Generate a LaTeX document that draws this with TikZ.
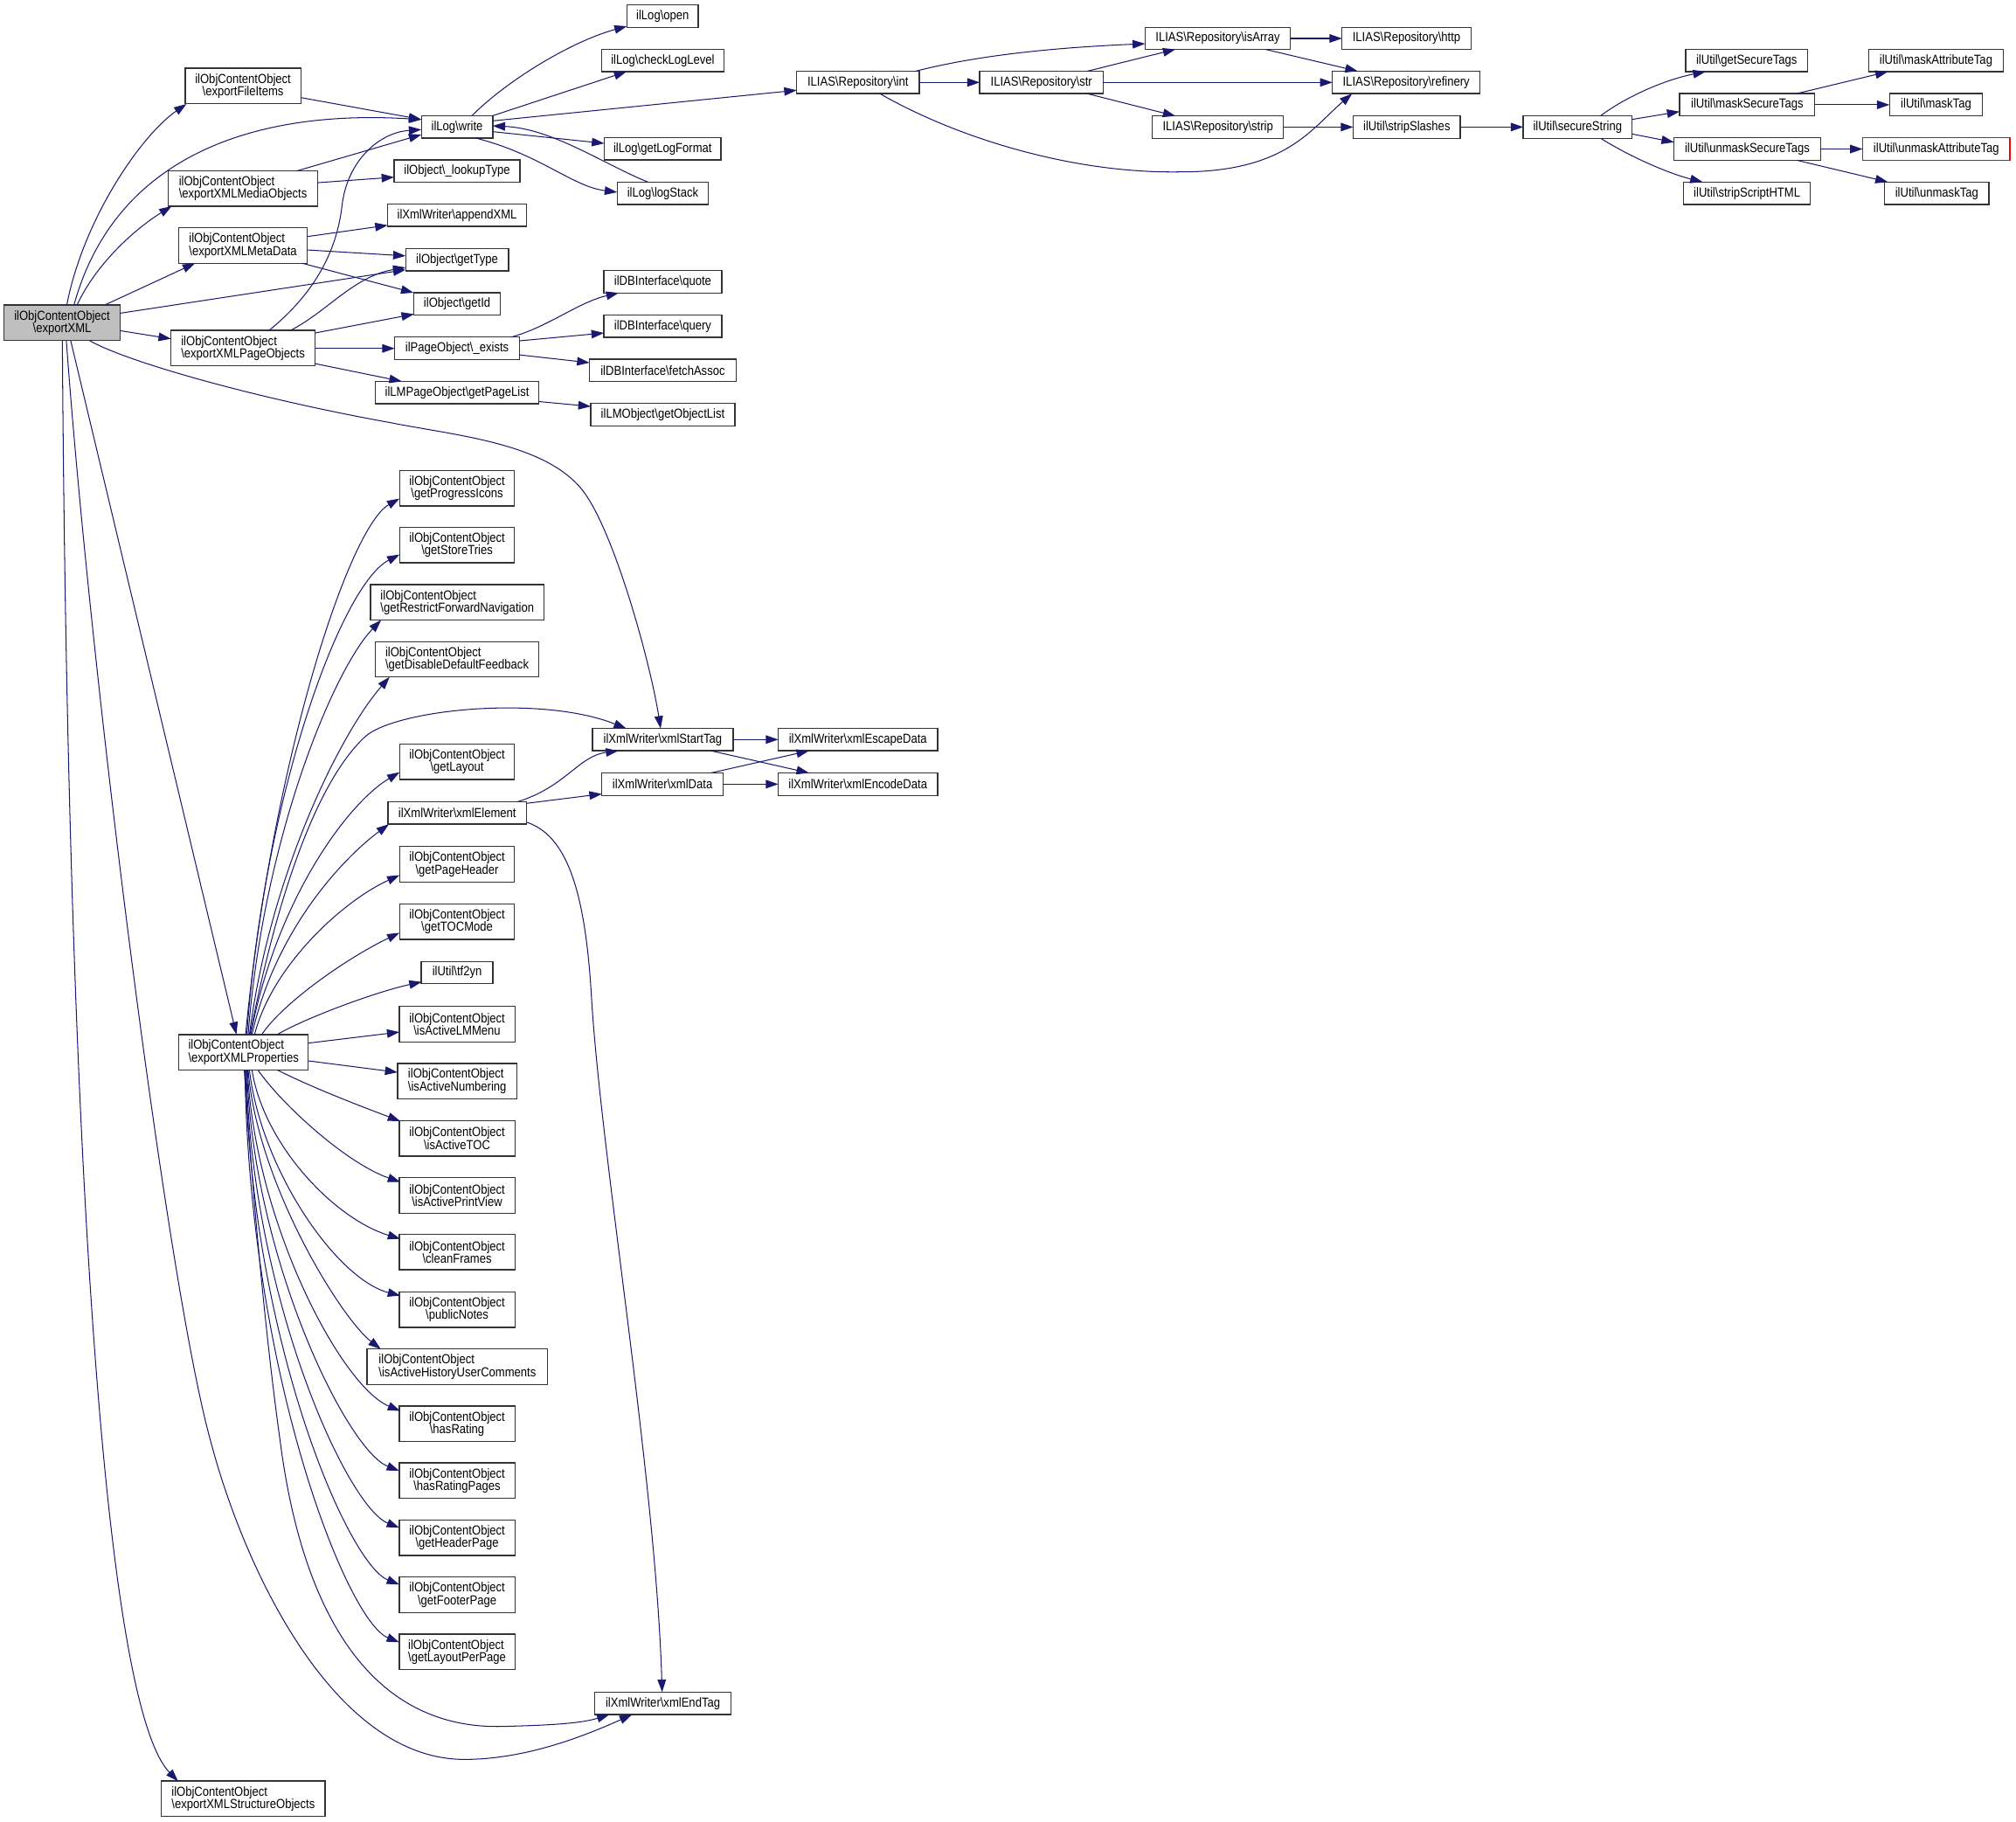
\documentclass[tikz,border=0pt]{standalone}
\usepackage{fontspec}
\setmainfont{Liberation Sans}[FakeStretch=0.87]
\usetikzlibrary{arrows.meta,calc}
\definecolor{mblue}{RGB}{25,25,112}
\newcommand{\bsl}{\textbackslash}
\tikzset{
  nb/.style={draw=black!80, line width=0.9pt, fill=white, inner sep=0pt, minimum height=17.4pt, font=\fontsize{10.2}{9.7}\selectfont, align=center},
  nb2/.style={nb, minimum height=27.5pt},
  ce/.style={draw=mblue, line width=0.7pt, -{Triangle[length=9.7pt,width=6.6pt]}},
}
\begin{document}
\begin{tikzpicture}[x=1pt,y=-1pt]
\useasboundingbox (0,0) rectangle (1568,1417);
% rank 0
\node[nb2, fill=gray!50, minimum width=90.5pt] (n0) at (48.3,251) {ilObjContentObject\\\bsl exportXML};
% rank 1
\node[nb2, minimum width=90pt] (fi) at (189,66.8) {ilObjContentObject\\\bsl exportFileItems};
\node[nb2, align=left, minimum width=116pt] (mo) at (189,146.7) {ilObjContentObject\\\bsl exportXMLMediaObjects};
\node[nb2, align=left, minimum width=100pt] (md) at (189,191) {ilObjContentObject\\\bsl exportXMLMetaData};
\node[nb2, align=left, minimum width=112pt] (po) at (189,270.7) {ilObjContentObject\\\bsl exportXMLPageObjects};
\node[nb2, align=left, minimum width=100.7pt] (pr) at (189.4,818.4) {ilObjContentObject\\\bsl exportXMLProperties};
\node[nb2, align=left, minimum width=127.2pt] (so) at (189.2,1399) {ilObjContentObject\\\bsl exportXMLStructureObjects};
% rank 2
\node[nb, minimum width=55.5pt] (wr) at (355.5,98.7) {ilLog\bsl write};
\node[nb, minimum width=98pt] (lt) at (355.5,133.1) {ilObject\bsl\_lookupType};
\node[nb, minimum width=108pt] (ax) at (355.5,167.4) {ilXmlWriter\bsl appendXML};
\node[nb, minimum width=80pt] (gt) at (355.5,202) {ilObject\bsl getType};
\node[nb, minimum width=67pt] (gi) at (355.5,236.4) {ilObject\bsl getId};
\node[nb, minimum width=97pt] (ex) at (355.5,270.9) {ilPageObject\bsl\_exists};
\node[nb, minimum width=127pt] (gp) at (355.5,305.3) {ilLMPageObject\bsl getPageList};
\node[nb2, minimum width=89.4pt] (pi) at (355.5,379.8) {ilObjContentObject\\\bsl getProgressIcons};
\node[nb2, minimum width=89.4pt] (st) at (355.5,424) {ilObjContentObject\\\bsl getStoreTries};
\node[nb2, align=left, minimum width=135.1pt] (rf) at (355.65,468.5) {ilObjContentObject\\\bsl getRestrictForwardNavigation};
\node[nb2, align=left, minimum width=127.3pt] (dd) at (355.5,512.8) {ilObjContentObject\\\bsl getDisableDefaultFeedback};
\node[nb2, minimum width=89.4pt] (gl) at (355.5,592.4) {ilObjContentObject\\\bsl getLayout};
\node[nb, minimum width=107.9pt] (xe) at (355.65,632.3) {ilXmlWriter\bsl xmlElement};
\node[nb2, minimum width=89.4pt] (ph) at (355.5,672.2) {ilObjContentObject\\\bsl getPageHeader};
\node[nb2, minimum width=89.4pt] (tm) at (355.5,716.8) {ilObjContentObject\\\bsl getTOCMode};
\node[nb, minimum width=55.7pt, minimum height=17.3pt] (tf) at (355.5,756.5) {ilUtil\bsl tf2yn};
\node[nb2, minimum width=90pt] (lm) at (355.5,796.6) {ilObjContentObject\\\bsl isActiveLMMenu};
\node[nb2, align=left, minimum width=92.8pt] (an) at (355.6,840.8) {ilObjContentObject\\\bsl isActiveNumbering};
\node[nb2, minimum width=90pt] (itoc) at (355.5,885.4) {ilObjContentObject\\\bsl isActiveTOC};
\node[nb2, minimum width=90pt] (pv) at (355.5,929.8) {ilObjContentObject\\\bsl isActivePrintView};
\node[nb2, minimum width=90pt] (cf) at (355.5,973.9) {ilObjContentObject\\\bsl cleanFrames};
\node[nb2, minimum width=90pt] (pn) at (355.5,1018.6) {ilObjContentObject\\\bsl publicNotes};
\node[nb2, align=left, minimum width=140.5pt] (hu) at (355.75,1063) {ilObjContentObject\\\bsl isActiveHistoryUserComments};
\node[nb2, minimum width=90pt] (hr) at (355.5,1107.4) {ilObjContentObject\\\bsl hasRating};
\node[nb2, minimum width=90pt] (hp) at (355.5,1151.6) {ilObjContentObject\\\bsl hasRatingPages};
\node[nb2, minimum width=90pt] (hh) at (355.5,1196.1) {ilObjContentObject\\\bsl getHeaderPage};
\node[nb2, minimum width=90pt] (fp) at (355.5,1240.4) {ilObjContentObject\\\bsl getFooterPage};
\node[nb2, align=left, minimum width=90pt] (lp) at (355.5,1284.8) {ilObjContentObject\\\bsl getLayoutPerPage};
% rank 3
\node[nb, minimum width=55.5pt] (op) at (515.4,12.6) {ilLog\bsl open};
\node[nb, minimum width=95.3pt] (cl) at (515.5,47) {ilLog\bsl checkLogLevel};
\node[nb, minimum width=90.8pt] (lf) at (515.4,115.7) {ilLog\bsl getLogFormat};
\node[nb, minimum width=71pt] (ls) at (515.5,150.3) {ilLog\bsl logStack};
\node[nb, minimum width=91.6pt] (qu) at (515.5,219.1) {ilDBInterface\bsl quote};
\node[nb, minimum width=91.6pt] (qy) at (515.5,253.7) {ilDBInterface\bsl query};
\node[nb, minimum width=114pt] (fa) at (515.5,288) {ilDBInterface\bsl fetchAssoc};
\node[nb, minimum width=112pt] (ol) at (515.5,322.5) {ilLMObject\bsl getObjectList};
\node[nb, minimum width=109.5pt] (xs) at (515.45,575.2) {ilXmlWriter\bsl xmlStartTag};
\node[nb, minimum width=94.3pt] (xd) at (515.25,609.9) {ilXmlWriter\bsl xmlData};
\node[nb, minimum width=105.7pt] (xt) at (515.55,1324.8) {ilXmlWriter\bsl xmlEndTag};
% rank 4
\node[nb, minimum width=95.3pt] (ri) at (667.25,64.1) {ILIAS\bsl Repository\bsl int};
\node[nb, minimum width=124pt] (xc) at (667.25,575.2) {ilXmlWriter\bsl xmlEscapeData};
\node[nb, minimum width=124pt] (xn) at (667.25,609.9) {ilXmlWriter\bsl xmlEncodeData};
% rank 5-8
\node[nb, minimum width=96pt] (rs) at (810,64.1) {ILIAS\bsl Repository\bsl str};
\node[nb, minimum width=113pt] (ra) at (947.1,29.9) {ILIAS\bsl Repository\bsl isArray};
\node[nb, minimum width=102pt] (rp) at (947.25,98.8) {ILIAS\bsl Repository\bsl strip};
\node[nb, minimum width=100.3pt] (rh) at (1093.9,29.9) {ILIAS\bsl Repository\bsl http};
\node[nb, minimum width=114.7pt] (rr) at (1093.7,64.1) {ILIAS\bsl Repository\bsl refinery};
\node[nb, minimum width=83.3pt] (ss) at (1094.15,98.8) {ilUtil\bsl stripSlashes};
\node[nb, minimum width=84.6pt] (sc) at (1227,98.8) {ilUtil\bsl secureString};
% rank 9
\node[nb, minimum width=95pt] (gs) at (1358.5,47) {ilUtil\bsl getSecureTags};
\node[nb, minimum width=105.2pt] (ms) at (1358.9,81.5) {ilUtil\bsl maskSecureTags};
\node[nb, minimum width=114pt] (us) at (1359,115.9) {ilUtil\bsl unmaskSecureTags};
\node[nb, minimum width=98.5pt] (sh) at (1358.75,150.3) {ilUtil\bsl stripScriptHTML};
% rank 10
\node[nb, minimum width=104.5pt] (ma) at (1505.75,47) {ilUtil\bsl maskAttributeTag};
\node[nb, minimum width=72.4pt] (mt) at (1505.8,81.5) {ilUtil\bsl maskTag};
\node[nb, draw=red, minimum width=114.6pt] (ua) at (1506,115.9) {ilUtil\bsl unmaskAttributeTag};
\node[nb, minimum width=81.3pt] (ut) at (1506.35,150.3) {ilUtil\bsl unmaskTag};

% ---- edges from exportXML
\draw[ce] ($(n0)+(3.7,-14)$) .. controls (65,170) and (110,105) .. ($(fi)+(-44,14.1)$);
\draw[ce] ($(n0)+(9.3,-14)$) .. controls (90,120) and (200,85) .. ($(wr)+(-27.8,-5.7)$);
\draw[ce] ($(n0)+(11.7,-14)$) .. controls (75,205) and (105,178) .. ($(mo)+(-55.5,13.7)$);
\draw[ce] ($(n0)+(33,-13.7)$) -- ($(md)+(-37.3,13.75)$);
\draw[ce] ($(n0)+(45.2,-7.4)$) -- ($(gt)+(-40,7.8)$);
\draw[ce] ($(n0)+(45.2,6.2)$) -- ($(po)+(-56,-7.2)$);
\draw[ce] ($(n0)+(21.5,14)$) .. controls (100,282) and (200,310) .. (303,328.6) .. controls (353,338.6) and (422,344) .. (452,380) .. controls (477,410) and (506,516) .. ($(xs)+(-1.65,-8.6)$);
\draw[ce] ($(n0)+(6.7,14)$) -- ($(pr)+(-5.5,-13.8)$);
\draw[ce] ($(n0)+(0.2,14)$) .. controls (52,800) and (75,1320) .. ($(so)+(-50.7,-13.6)$);
\draw[ce] ($(n0)+(3.3,14)$) .. controls (70,520) and (130,1000) .. (164,1121.5) .. controls (190,1220) and (260,1370) .. (362.8,1368.4) .. controls (410,1368) and (455,1350) .. ($(xt)+(-24,8.8)$);

% ---- rank 1 edges
\draw[ce] ($(fi)+(45,9.1)$) -- ($(wr)+(-27.8,-5.8)$);
\draw[ce] ($(mo)+(41.6,-13.7)$) -- ($(wr)+(-27.8,6)$);
\draw[ce] ($(mo)+(58,-4.6)$) -- ($(lt)+(-49,4.7)$);
\draw[ce] ($(md)+(50,-7)$) -- ($(ax)+(-54,7.8)$);
\draw[ce] ($(md)+(50,3.4)$) -- ($(gt)+(-40,-3)$);
\draw[ce] ($(md)+(46.1,13.75)$) -- ($(gi)+(-33.9,-8.75)$);
\draw[ce] ($(po)+(20.3,-13.75)$) .. controls (245,228) and (262,195) .. (266,160) .. controls (270,125) and (295,103) .. ($(wr)+(-27.8,2.1)$);
\draw[ce] ($(po)+(37,-13.75)$) .. controls (255,242) and (275,215) .. ($(gt)+(-40,6)$);
\draw[ce] ($(po)+(56,-11.7)$) -- ($(gi)+(-33.5,7.9)$);
\draw[ce] ($(po)+(56,0.3)$) -- ($(ex)+(-48.5,0.1)$);
\draw[ce] ($(po)+(56,12.1)$) -- ($(gp)+(-43,-8.7)$);

% ---- exportXMLProperties fan (upwards)
\draw[ce] ($(pr)+(26.3,-13.8)$) .. controls (235,793) and (290,772) .. ($(tf)+(-27.5,7.2)$);
\draw[ce] ($(pr)+(14.2,-13.8)$) .. controls (220,780) and (270,745) .. ($(tm)+(-44.7,8.7)$);
\draw[ce] ($(pr)+(8.6,-13.8)$) .. controls (212,750) and (268,700) .. ($(ph)+(-44.7,8.5)$);
\draw[ce] ($(pr)+(6.6,-13.8)$) .. controls (215,720) and (270,665) .. ($(xe)+(-53.15,8.75)$);
\draw[ce] ($(pr)+(5.6,-13.8)$) .. controls (215,700) and (270,625) .. ($(gl)+(-44.7,8.2)$);
\draw[ce] ($(pr)+(5.1,-13.8)$) .. controls (215,700) and (245,610) .. (283.2,573.7) .. controls (305,552) and (420,540) .. ($(xs)+(-28.35,-8.6)$);
\draw[ce] ($(pr)+(4.6,-13.8)$) .. controls (210,680) and (265,570) .. ($(dd)+(-52.5,13.75)$);
\draw[ce] ($(pr)+(3.6,-13.8)$) .. controls (205,650) and (260,520) .. ($(rf)+(-59.25,13.75)$);
\draw[ce] ($(pr)+(2.6,-13.8)$) .. controls (205,620) and (265,455) .. ($(st)+(-44.7,7.3)$);
\draw[ce] ($(pr)+(1.6,-13.8)$) .. controls (212,590) and (271.5,410) .. ($(pi)+(-44.8,8)$);
% ---- exportXMLProperties fan (downwards)
\draw[ce] ($(pr)+(50.35,-7.1)$) -- ($(lm)+(-44.8,6.1)$);
\draw[ce] ($(pr)+(50.35,6.7)$) -- ($(an)+(-46.4,-6.8)$);
\draw[ce] ($(pr)+(26.3,13.8)$) .. controls (245,847) and (285,862) .. ($(itoc)+(-44.2,-13.4)$);
\draw[ce] ($(pr)+(11.2,13.8)$) .. controls (220,860) and (270,905) .. ($(pv)+(-44.2,-10.5)$);
\draw[ce] ($(pr)+(6.6,13.8)$) .. controls (205,890) and (260,948) .. ($(cf)+(-44.2,-10.4)$);
\draw[ce] ($(pr)+(4.6,13.8)$) .. controls (203,910) and (262,995) .. ($(pn)+(-44.2,-10.9)$);
\draw[ce] ($(pr)+(3.6,13.8)$) .. controls (200,920) and (265,1025) .. ($(hu)+(-59.65,-13.75)$);
\draw[ce] ($(pr)+(3.1,13.8)$) .. controls (198,950) and (265,1078) .. ($(hr)+(-44.2,-10)$);
\draw[ce] ($(pr)+(2.6,13.8)$) .. controls (197,980) and (270,1128) .. ($(hp)+(-45,-7.6)$);
\draw[ce] ($(pr)+(2.1,13.8)$) .. controls (196,1010) and (270,1172) .. ($(hh)+(-45,-7.9)$);
\draw[ce] ($(pr)+(1.6,13.8)$) .. controls (195,1040) and (270,1216) .. ($(fp)+(-45,-8)$);
\draw[ce] ($(pr)+(1.1,13.8)$) .. controls (194,1070) and (270,1261) .. ($(lp)+(-45,-7.5)$);
\draw[ce] ($(pr)+(0.6,13.8)$) .. controls (198,950) and (208,1050) .. (218,1121.5) .. controls (232,1230) and (275,1345) .. (390,1342.8) .. controls (420,1342) and (450,1341) .. ($(xt)+(-41.55,8.75)$);

% ---- ilLog
\draw[ce] ($(wr)+(11.6,-8.75)$) .. controls (395,62) and (445,32) .. ($(op)+(-27.8,7.8)$);
\draw[ce] ($(wr)+(27.7,-8.7)$) -- ($(cl)+(-28.2,8.7)$);
\draw[ce] ($(wr)+(27.7,-4.7)$) -- ($(ri)+(-47.65,6.1)$);
\draw[ce] ($(wr)+(27.7,3.7)$) -- ($(lf)+(-45.4,-4.2)$);
\draw[ce] ($(wr)+(14.7,8.75)$) .. controls (420,120) and (445,145) .. ($(ls)+(-35.5,-0.8)$);
\draw[ce] ($(ls)+(-11.5,-8.7)$) .. controls (470,128) and (430,100) .. ($(wr)+(27.7,-0.8)$);

% ---- page objects / db
\draw[ce] ($(gp)+(63.5,7)$) -- ($(ol)+(-56,-6.4)$);
\draw[ce] ($(ex)+(41.9,-8.7)$) .. controls (425,255) and (450,235) .. ($(qu)+(-34.3,8.7)$);
\draw[ce] ($(ex)+(48.5,-5.8)$) -- ($(qy)+(-45.8,5.3)$);
\draw[ce] ($(ex)+(48.5,5.1)$) -- ($(fa)+(-57,-5.9)$);

% ---- repository
\draw[ce] ($(ri)+(44.55,-8.65)$) .. controls (760,43) and (820,37) .. ($(ra)+(-56.5,4.1)$);
\draw[ce] ($(ri)+(47.65,0)$) -- ($(rs)+(-48,0)$);
\draw[ce] ($(ri)+(17.15,8.75)$) .. controls (740,105) and (830,135) .. (917.6,133.7) .. controls (1000,134) and (1020,100) .. ($(rr)+(-42.1,8.75)$);
\draw[ce] ($(rs)+(35.3,-8.65)$) -- ($(ra)+(-32.9,8.45)$);
\draw[ce] ($(rs)+(48,0)$) -- ($(rr)+(-57.35,0)$);
\draw[ce] ($(rs)+(35.3,8.65)$) -- ($(rp)+(-33.05,-8.6)$);
\draw[ce] ($(ra)+(56.5,0)$) -- ($(rh)+(-50.15,0)$);
\draw[ce] ($(ra)+(36.9,8.45)$) -- ($(rr)+(-37.7,-8.75)$);
\draw[ce] ($(rp)+(51.05,0)$) -- ($(ss)+(-41.65,0)$);
\draw[ce] ($(ss)+(41.65,0)$) -- ($(sc)+(-42.3,0)$);

% ---- ilUtil
\draw[ce] ($(sc)+(17.9,-8.75)$) .. controls (1265,75) and (1295,62) .. ($(gs)+(-32,8.75)$);
\draw[ce] ($(sc)+(42.3,-5.9)$) -- ($(ms)+(-52.6,5.3)$);
\draw[ce] ($(sc)+(42.3,5.4)$) -- ($(us)+(-57,-5.3)$);
\draw[ce] ($(sc)+(17.9,8.75)$) .. controls (1268,122) and (1298,135) .. ($(sh)+(-34.45,-8.75)$);
\draw[ce] ($(ms)+(38.7,-8.75)$) -- ($(ma)+(-37.45,8.75)$);
\draw[ce] ($(ms)+(52.6,0)$) -- ($(mt)+(-36.2,0)$);
\draw[ce] ($(us)+(57,0)$) -- ($(ua)+(-57.3,0)$);
\draw[ce] ($(us)+(38.6,8.75)$) -- ($(ut)+(-38.05,-8.75)$);

% ---- xml writer
\draw[ce] ($(xe)+(46.95,-8.75)$) .. controls (440,612) and (450,588) .. ($(xs)+(-34.55,8.75)$);
\draw[ce] ($(xe)+(53.95,-7.5)$) -- ($(xd)+(-47.15,7.6)$);
\draw[ce] ($(xe)+(54.35,7.3)$) .. controls (440,650) and (455,690) .. (460,775) .. controls (467.4,900) and (510,1150) .. ($(xt)+(-0.55,-8.75)$);
\draw[ce] ($(xs)+(54.75,0)$) -- ($(xc)+(-61.95,0)$);
\draw[ce] ($(xs)+(37.55,8.75)$) -- ($(xn)+(-38.05,-8.75)$);
\draw[ce] ($(xd)+(37.75,-8.75)$) -- ($(xc)+(-38.05,8.75)$);
\draw[ce] ($(xd)+(47.15,0)$) -- ($(xn)+(-61.95,0)$);
\end{tikzpicture}
\end{document}
